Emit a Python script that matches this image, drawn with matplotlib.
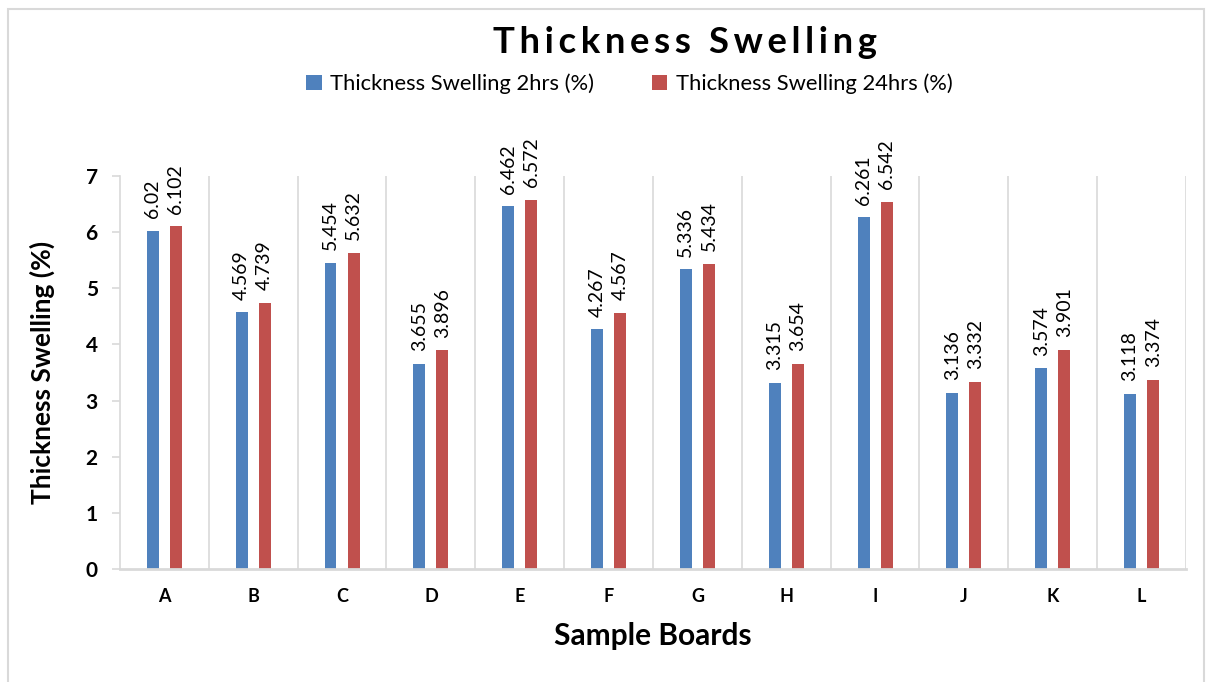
import numpy as np
import matplotlib.pyplot as plt
from matplotlib.patches import Rectangle

# données des panneaux
boards = ['A', 'B', 'C', 'D', 'E', 'F', 'G', 'H', 'I', 'J', 'K', 'L']
swell_2h = [6.02, 4.569, 5.454, 3.655, 6.462, 4.267, 5.336, 3.315, 6.261, 3.136, 3.574, 3.118]
swell_24h = [6.102, 4.739, 5.632, 3.896, 6.572, 4.567, 5.434, 3.654, 6.542, 3.332, 3.901, 3.374]
labels_2h = ['6.02', '4.569', '5.454', '3.655', '6.462', '4.267', '5.336', '3.315', '6.261', '3.136', '3.574', '3.118']
labels_24h = ['6.102', '4.739', '5.632', '3.896', '6.572', '4.567', '5.434', '3.654', '6.542', '3.332', '3.901', '3.374']

plt.rcParams['font.family'] = ['Lato', 'DejaVu Sans']

bleu = '#4f81bd'
rouge = '#c0504d'
gris = '#d9d9d9'

fig = plt.figure(figsize=(12.08, 6.82), dpi=100)
ax = fig.add_axes([0.0993, 0.1657, 0.8825, 0.5763])

x = np.arange(len(boards))
w = 0.135
ecart = 0.13
ax.bar(x - ecart, swell_2h, w, color=bleu, label='Thickness Swelling 2hrs (%)')
ax.bar(x + ecart, swell_24h, w, color=rouge, label='Thickness Swelling 24hrs (%)')

for i in range(len(boards)):
    ax.annotate(labels_2h[i], (x[i] - ecart, swell_2h[i]), xytext=(0, 9), textcoords='offset points',
                rotation=90, ha='center', va='bottom', fontsize=14)
    ax.annotate(labels_24h[i], (x[i] + ecart, swell_24h[i]), xytext=(0, 9), textcoords='offset points',
                rotation=90, ha='center', va='bottom', fontsize=14)

# séparateurs verticaux entre les catégories
for s in np.arange(0.5, len(boards), 1.0):
    ax.plot([s, s], [0, 7], color=gris, lw=1.2, zorder=0)

ax.set_xlim(-0.5, len(boards) - 0.5)
ax.set_ylim(0, 7)
ax.set_yticks(range(8))
ax.set_xticks(x)
ax.set_xticklabels(boards)
ax.tick_params(axis='x', length=0, pad=14)
ax.tick_params(axis='y', length=6, color=gris, width=1.2, pad=10)
for lab in ax.get_xticklabels():
    lab.set_fontweight('bold')
    lab.set_fontsize(13)
for lab in ax.get_yticklabels():
    lab.set_fontweight('bold')
    lab.set_fontsize(15)

for side in ['top', 'right']:
    ax.spines[side].set_visible(False)
ax.spines['left'].set_color(gris)
ax.spines['left'].set_linewidth(1.2)
ax.spines['bottom'].set_color(gris)
ax.spines['bottom'].set_linewidth(2)

ax.set_xlabel('Sample Boards', fontsize=21.5, fontweight='bold', labelpad=12)
ax.set_ylabel('Thickness Swelling (%)', fontsize=19, fontweight='bold', labelpad=22)

fig.text(0.567, 0.938, '\u2009'.join('Thickness Swelling'), ha='center', va='center',
         fontsize=26.3, fontweight='bold')

fig.legend(loc='center', bbox_to_anchor=(0.521, 0.877), ncol=2, frameon=False, fontsize=15.8,
           handlelength=0.7, handleheight=0.7, handletextpad=0.4, columnspacing=2.6)

# cadre autour de la figure
fig.patches.append(Rectangle((0.007, -0.01), 0.99, 0.997, transform=fig.transFigure,
                             fill=False, edgecolor=gris, lw=1.5))

fig.savefig('out.png', dpi=100)
